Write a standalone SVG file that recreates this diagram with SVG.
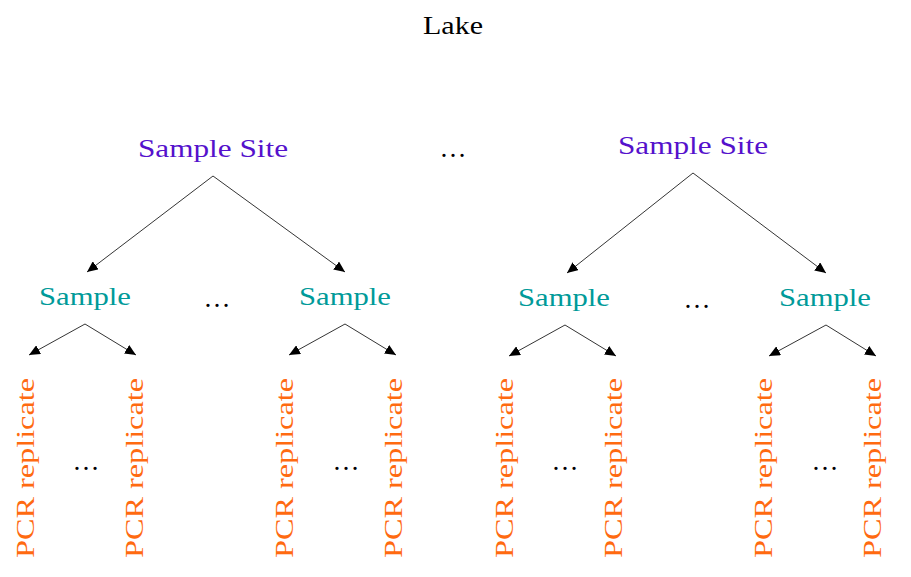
<svg xmlns="http://www.w3.org/2000/svg" width="911" height="577" viewBox="0 0 911 577">
<defs>
<style>
text{font-family:"Liberation Serif","DejaVu Serif",serif;font-size:25px;text-anchor:middle}
.site{fill:#5511cc}
.samp{fill:#009a99}
.pcr{fill:#ff6a10}
.dots{fill:#000;font-size:27px}
.edge{stroke:#000;stroke-width:0.8;fill:none;marker-end:url(#ah)}
</style>
<marker id="ah" markerUnits="userSpaceOnUse" markerWidth="12" markerHeight="10" refX="11" refY="5" orient="auto">
<path d="M0,0 L11,5 L0,10 Z" fill="#000"/>
</marker>
</defs>
<rect width="911" height="577" fill="#fff"/>
<g id="lake"><text x="453" y="34" textLength="60" lengthAdjust="spacingAndGlyphs">Lake</text></g>
<g id="site1"><text class="site" x="213" y="157" textLength="150" lengthAdjust="spacingAndGlyphs">Sample Site</text></g>
<g id="site-dots"><text class="dots" x="453" y="157">…</text></g>
<g id="site2"><text class="site" x="693" y="154" textLength="150" lengthAdjust="spacingAndGlyphs">Sample Site</text></g>
<g id="s1"><text class="samp" x="85" y="305" textLength="92" lengthAdjust="spacingAndGlyphs">Sample</text></g>
<g id="sd1"><text class="dots" x="217" y="307">…</text></g>
<g id="s2"><text class="samp" x="345" y="305" textLength="92" lengthAdjust="spacingAndGlyphs">Sample</text></g>
<g id="s3"><text class="samp" x="564" y="306" textLength="92" lengthAdjust="spacingAndGlyphs">Sample</text></g>
<g id="sd2"><text class="dots" x="697" y="308">…</text></g>
<g id="s4"><text class="samp" x="825" y="306" textLength="92" lengthAdjust="spacingAndGlyphs">Sample</text></g>
<g id="p1"><text class="pcr" transform="translate(34,468) rotate(-90)" textLength="180" lengthAdjust="spacingAndGlyphs">PCR replicate</text></g>
<g id="pd1"><text class="dots" x="86" y="470">…</text></g>
<g id="p2"><text class="pcr" transform="translate(143,468) rotate(-90)" textLength="180" lengthAdjust="spacingAndGlyphs">PCR replicate</text></g>
<g id="p3"><text class="pcr" transform="translate(293,468) rotate(-90)" textLength="180" lengthAdjust="spacingAndGlyphs">PCR replicate</text></g>
<g id="pd2"><text class="dots" x="346" y="470">…</text></g>
<g id="p4"><text class="pcr" transform="translate(402,468) rotate(-90)" textLength="180" lengthAdjust="spacingAndGlyphs">PCR replicate</text></g>
<g id="p5"><text class="pcr" transform="translate(513,468) rotate(-90)" textLength="180" lengthAdjust="spacingAndGlyphs">PCR replicate</text></g>
<g id="pd3"><text class="dots" x="565" y="470">…</text></g>
<g id="p6"><text class="pcr" transform="translate(622,468) rotate(-90)" textLength="180" lengthAdjust="spacingAndGlyphs">PCR replicate</text></g>
<g id="p7"><text class="pcr" transform="translate(772,468) rotate(-90)" textLength="180" lengthAdjust="spacingAndGlyphs">PCR replicate</text></g>
<g id="pd4"><text class="dots" x="825" y="470">…</text></g>
<g id="p8"><text class="pcr" transform="translate(881,468) rotate(-90)" textLength="180" lengthAdjust="spacingAndGlyphs">PCR replicate</text></g>
<g id="connectors">
<line class="edge" x1="213" y1="176" x2="87" y2="272"/>
<line class="edge" x1="213" y1="176" x2="345" y2="272"/>
<line class="edge" x1="693" y1="173" x2="567" y2="273"/>
<line class="edge" x1="693" y1="173" x2="826" y2="273"/>
<line class="edge" x1="85" y1="324" x2="29" y2="355"/>
<line class="edge" x1="85" y1="324" x2="136" y2="355"/>
<line class="edge" x1="345" y1="324" x2="289" y2="355"/>
<line class="edge" x1="345" y1="324" x2="396" y2="355"/>
<line class="edge" x1="565" y1="325" x2="509" y2="356"/>
<line class="edge" x1="565" y1="325" x2="616" y2="356"/>
<line class="edge" x1="826" y1="325" x2="769" y2="356"/>
<line class="edge" x1="826" y1="325" x2="876" y2="356"/>
</g>
</svg>
